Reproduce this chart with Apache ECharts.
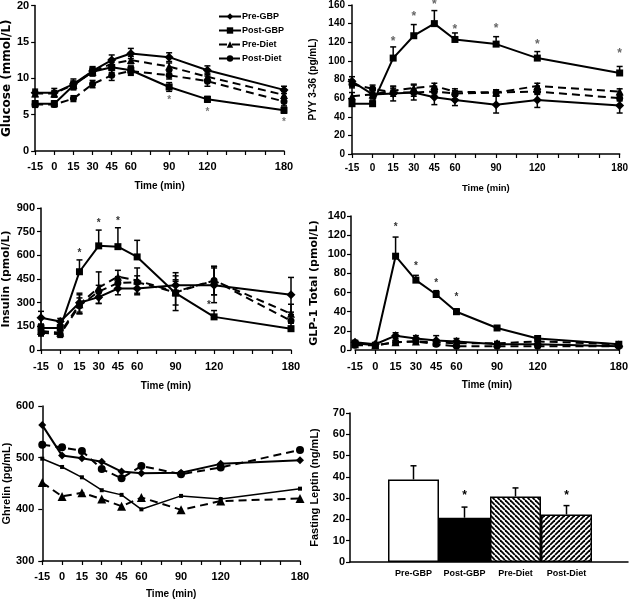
<!DOCTYPE html>
<html><head><meta charset="utf-8">
<script src="https://cdn.jsdelivr.net/npm/echarts@6/dist/echarts.min.js"></script>
<style>html,body{margin:0;padding:0;background:#fff}#c{width:631px;height:600px}</style>
</head><body><div id="c"></div>
<script>
const times = [-15, 0, 15, 30, 45, 60, 90, 120, 180];
const timeLabels = [-15, 0, 15, 30, 45, 60, 90, 120, 180];
const groups = ['Pre-GBP', 'Post-GBP', 'Pre-Diet', 'Post-Diet'];

// Glucose (mmol/L)
const gluPreGBP   = [8.0, 8.0, 9.2, 11.0, 12.5, 13.4, 12.9, 11.1, 8.4];
const gluPostGBP  = [6.5, 6.5, 9.0, 10.9, 11.5, 11.1, 8.8, 7.1, 5.6];
const gluPreDiet  = [7.9, 7.9, 9.1, 10.9, 12.0, 12.5, 11.6, 10.2, 7.7];
const gluPostDiet = [6.4, 6.4, 7.2, 9.2, 10.4, 11.0, 10.4, 9.6, 6.8];
const gluPreGBPErr   = [0.5, 0.6, 0.7, 0.6, 0.7, 0.7, 0.6, 0.6, 0.5];
const gluPostGBPErr  = [0.4, 0.4, 0.6, 0.6, 0.7, 0.6, 0.6, 0.4, 0.4];
const gluPreDietErr  = [0.4, 0.4, 0.5, 0.5, 0.6, 0.5, 0.5, 0.5, 0.5];
const gluPostDietErr = [0.4, 0.3, 0.4, 0.5, 0.7, 0.6, 0.5, 0.7, 0.6];
const gluStars = [[90, 7.0], [120, 5.3], [180, 4.0]];

// PYY 3-36 (pg/mL)
const pyyPreGBP   = [78, 64, 65, 66, 61, 58, 53, 58, 52];
const pyyPostGBP  = [54, 54, 103, 127, 140, 123, 118, 103, 87];
const pyyPreDiet  = [62, 64, 68, 71, 73, 67, 66, 73, 67];
const pyyPostDiet = [75, 70, 66, 66, 67, 65, 66, 67, 60];
const pyyPreGBPErr   = [5, 5, 8, 8, 8, 6, 9, 8, 8];
const pyyPostGBPErr  = [3, 3, 12, 12, 14, 7, 8, 7, 7];
const pyyPreDietErr  = [4, 4, 4, 4, 3, 3, 3, 3, 3];
const pyyPostDietErr = [4, 4, 4, 4, 4, 3, 3, 3, 3];
const pyyStars = [[15, 121], [30, 147], [45, 160], [60, 133], [90, 135], [120, 117], [180, 108]];

// Insulin (pmol/L)
const insPreGBP   = [205, 180, 300, 335, 390, 390, 410, 410, 350];
const insPostGBP  = [140, 140, 496, 660, 655, 590, 360, 210, 135];
const insPreDiet  = [120, 110, 290, 395, 465, 440, 370, 440, 230];
const insPostDiet = [110, 100, 280, 370, 425, 430, 365, 440, 185];
const insPreGBPErr   = [40, 20, 60, 40, 40, 40, 60, 110, 110];
const insPostGBPErr  = [20, 20, 75, 100, 120, 105, 75, 40, 15];
const insPreDietErr  = [30, 20, 60, 100, 40, 80, 120, 90, 60];
const insPostDietErr = [20, 20, 50, 40, 40, 40, 80, 90, 40];
const insStars = [[15, 613], [30, 805], [45, 813], [116, 285]];

// GLP-1 Total (pmol/L)
const glpPreGBP   = [8, 6, 15, 12, 10, 9, 6, 6, 4];
const glpPostGBP  = [7, 5, 98, 73, 58, 40, 23, 12, 6];
const glpPreDiet  = [6, 5, 8, 9, 8, 7, 7, 9, 6];
const glpPostDiet = [5, 5, 8, 9, 6, 4, 4, 4, 4];
const glpPreGBPErr   = [2, 1, 3, 3, 5, 3, 2, 2, 1];
const glpPostGBPErr  = [2, 1, 20, 5, 4, 3, 2, 2, 1];
const glpPreDietErr  = [2, 1, 2, 2, 2, 2, 2, 2, 1];
const glpPostDietErr = [1, 1, 2, 2, 2, 1, 1, 1, 1];
const glpStars = [[15, 128], [30, 88], [45, 70], [60, 55]];

// Ghrelin (pg/mL)
const ghrPreGBP   = [563, 504, 499, 492, 473, 470, 471, 488, 495];
const ghrPostGBP  = [498, 482, 462, 437, 428, 400, 426, 420, 440];
const ghrPreDiet  = [452, 425, 432, 420, 406, 423, 399, 416, 421];
const ghrPostDiet = [525, 520, 513, 478, 460, 484, 468, 481, 515];

// Fasting leptin (ng/mL)
const leptinVals = [38.8, 20.8, 30.8, 22.3];
const leptinErr  = [6.4, 5.0, 4.0, 4.2];
const leptinStars = [[1, 31], [3, 31]];

const SANS = "'Liberation Sans', Arial, sans-serif";
const DEJ = "'DejaVu Sans', sans-serif";

function hatch(dir) {
  const s = 5, c = document.createElement('canvas');
  c.width = s; c.height = s;
  const ctx = c.getContext('2d');
  ctx.fillStyle = '#fff'; ctx.fillRect(0, 0, s, s);
  ctx.strokeStyle = '#000'; ctx.lineWidth = 1.8;
  for (let k = -s; k <= s; k += s) {
    ctx.beginPath();
    if (dir === 'back') { ctx.moveTo(k, 0); ctx.lineTo(k + s, s); }
    else { ctx.moveTo(k, s); ctx.lineTo(k + s, 0); }
    ctx.stroke();
  }
  return { image: c, repeat: 'repeat' };
}

const barStyles = [
  { color: '#fff', borderColor: '#000', borderWidth: 1.5 },
  { color: '#000', borderColor: '#000', borderWidth: 1.5 },
  { color: hatch('back'), borderColor: '#000', borderWidth: 1.5 },
  { color: hatch('fwd'), borderColor: '#000', borderWidth: 1.5 }
];

const symbols = { 'Pre-GBP': ['diamond', 9], 'Post-GBP': ['rect', 7], 'Pre-Diet': ['triangle', 8], 'Post-Diet': ['circle', 7] };
const dashedSet = { 'Pre-GBP': false, 'Post-GBP': false, 'Pre-Diet': true, 'Post-Diet': true };

function lineSeries(gi, name, vals, opt) {
  opt = opt || {};
  const sym = symbols[name];
  return {
    type: 'line', name: name, xAxisIndex: gi, yAxisIndex: gi,
    data: times.map((t, i) => [t, vals[i]]),
    symbol: sym[0], symbolSize: opt.size || sym[1], showSymbol: true,
    itemStyle: { color: '#000' },
    lineStyle: { color: '#000', width: opt.width || 2, type: dashedSet[name] ? [8, 5] : 'solid' },
    z: 3, animation: false
  };
}

function errSeries(gi, xs, vals, errs, upOnly) {
  return {
    type: 'custom', name: 'err', xAxisIndex: gi, yAxisIndex: gi, silent: true, z: 2, animation: false,
    data: xs.map((x, i) => [x, vals[i], errs[i]]),
    renderItem: function (params, api) {
      const x = api.value(0), v = api.value(1), e = api.value(2);
      const top = api.coord([x, v + e]);
      const bot = api.coord([x, upOnly ? v : v - e]);
      const cw = 3;
      const st = { stroke: '#000', lineWidth: 1.5 };
      const ch = [
        { type: 'line', shape: { x1: top[0], y1: top[1], x2: bot[0], y2: bot[1] }, style: st },
        { type: 'line', shape: { x1: top[0] - cw, y1: top[1], x2: top[0] + cw, y2: top[1] }, style: st }
      ];
      if (!upOnly) ch.push({ type: 'line', shape: { x1: bot[0] - cw, y1: bot[1], x2: bot[0] + cw, y2: bot[1] }, style: st });
      return { type: 'group', children: ch };
    }
  };
}

function starSeries(gi, pts, color, size) {
  return {
    type: 'custom', name: 'star', xAxisIndex: gi, yAxisIndex: gi, silent: true, z: 4, animation: false,
    data: pts,
    renderItem: function (params, api) {
      const c = api.coord([api.value(0), api.value(1)]);
      return { type: 'text', x: c[0], y: c[1], style: { text: '*', fill: color, font: 'bold ' + size + 'px ' + SANS, align: 'center', verticalAlign: 'middle' } };
    }
  };
}

const axisLine = { show: true, onZero: false, lineStyle: { color: '#000', width: 1.5 } };
const axisTick = { show: true, length: 4, inside: false, lineStyle: { color: '#000', width: 1.2 } };

function xTime(gi, ls, ns, gap, margin) {
  return {
    gridIndex: gi, type: 'value', min: -15, max: 180, interval: 15,
    axisLine: axisLine, axisTick: axisTick, splitLine: { show: false },
    axisLabel: { color: '#000', fontFamily: SANS, fontSize: ls, fontWeight: 'bold', margin: margin, showMinLabel: true, showMaxLabel: true,
      formatter: v => timeLabels.indexOf(v) >= 0 ? String(v) : '' },
    name: 'Time (min)', nameLocation: 'middle', nameGap: gap,
    nameTextStyle: { color: '#000', fontFamily: SANS, fontSize: ns, fontWeight: 'bold' }
  };
}
function yVal(gi, min, max, interval, name, ls, nf, ns, gap, margin, extra) {
  return Object.assign({
    gridIndex: gi, type: 'value', min: min, max: max, interval: interval,
    axisLine: axisLine, axisTick: axisTick, splitLine: { show: false },
    axisLabel: { color: '#000', fontFamily: SANS, fontSize: ls, fontWeight: 'bold', margin: margin },
    name: name, nameLocation: 'middle', nameGap: gap, nameRotate: 90,
    nameTextStyle: { color: '#000', fontFamily: nf, fontSize: ns, fontWeight: 'bold' }
  }, extra || {});
}

const series = [];
function panel(gi, pre, post, preD, postD, errs, upFlags) {
  const vals = [pre, post, preD, postD];
  groups.forEach((g, k) => series.push(errSeries(gi, times, vals[k], errs[k], upFlags[k])));
  groups.forEach((g, k) => series.push(lineSeries(gi, g, vals[k])));
}
panel(0, gluPreGBP, gluPostGBP, gluPreDiet, gluPostDiet, [gluPreGBPErr, gluPostGBPErr, gluPreDietErr, gluPostDietErr], [false, false, false, false]);
panel(1, pyyPreGBP, pyyPostGBP, pyyPreDiet, pyyPostDiet, [pyyPreGBPErr, pyyPostGBPErr, pyyPreDietErr, pyyPostDietErr], [false, true, false, false]);
panel(2, insPreGBP, insPostGBP, insPreDiet, insPostDiet, [insPreGBPErr, insPostGBPErr, insPreDietErr, insPostDietErr], [false, true, false, false]);
panel(3, glpPreGBP, glpPostGBP, glpPreDiet, glpPostDiet, [glpPreGBPErr, glpPostGBPErr, glpPreDietErr, glpPostDietErr], [false, true, false, false]);
// Ghrelin (no error bars)
series.push(lineSeries(4, 'Pre-GBP', ghrPreGBP, { size: 8 }));
series.push(lineSeries(4, 'Post-GBP', ghrPostGBP, { size: 4, width: 1.5 }));
series.push(lineSeries(4, 'Pre-Diet', ghrPreDiet, { size: 9 }));
series.push(lineSeries(4, 'Post-Diet', ghrPostDiet, { size: 8 }));

series.push(starSeries(0, gluStars, '#777', 10));
series.push(starSeries(1, pyyStars, '#666', 12));
series.push(starSeries(2, insStars, '#333', 10));
series.push(starSeries(3, glpStars, '#333', 10));

// Leptin bars
series.push({
  type: 'bar', name: 'leptin', xAxisIndex: 6, yAxisIndex: 6, barWidth: '100%', barGap: '0%', animation: false,
  data: leptinVals.map((v, i) => ({ value: v, itemStyle: barStyles[i] })), z: 2
});
series.push(Object.assign(errSeries(6, [0, 1, 2, 3], leptinVals, leptinErr, true), { z: 1 }));
series.push(starSeries(6, leptinStars, '#000', 12));

const option = {
  backgroundColor: '#fff',
  animation: false,
  legend: {
    data: groups, orient: 'vertical', left: 213, top: 7,
    itemWidth: 22, itemHeight: 8, itemGap: 5,
    textStyle: { color: '#000', fontFamily: SANS, fontSize: 9, fontWeight: 'bold', padding: [0, 0, 0, -4] },
    selectedMode: false
  },
  grid: [
    { left: 33, top: 5, width: 251, height: 146 },
    { left: 352, top: 3, width: 268, height: 151 },
    { left: 41, top: 208, width: 250, height: 142 },
    { left: 355, top: 216, width: 266, height: 134 },
    { left: 36, top: 406, width: 264, height: 155 },
    { left: 350, top: 413, width: 278, height: 149 },
    { left: 388, top: 413, width: 204, height: 149 }
  ],
  xAxis: [
    xTime(0, 11, 10, 30, 10),
    xTime(1, 10, 9.5, 29, 9),
    xTime(2, 11, 10, 31, 11),
    xTime(3, 11, 10, 30, 11),
    xTime(4, 11, 10, 28, 10),
    { gridIndex: 5, type: 'value', min: 0, max: 1, axisLine: axisLine, axisTick: { show: false }, axisLabel: { show: false }, splitLine: { show: false } },
    { gridIndex: 6, type: 'category', data: groups, axisLine: { show: false }, axisTick: { show: false }, splitLine: { show: false },
      axisLabel: { color: '#000', fontFamily: SANS, fontSize: 9, fontWeight: 'bold', margin: 7, interval: 0 } }
  ],
  yAxis: [
    yVal(0, 0, 20, 5, 'Glucose (mmol/L)', 11, DEJ, 12, 20, 6),
    yVal(1, 0, 160, 20, 'PYY 3-36 (pg/mL)', 10, SANS, 10, 34, 7),
    yVal(2, 0, 900, 150, 'Insulin (pmol/L)', 11, DEJ, 11, 29, 6),
    yVal(3, 0, 140, 20, 'GLP-1 Total (pmol/L)', 11, DEJ, 11, 31, 5, { offset: 4 }),
    yVal(4, 300, 600, 100, 'Ghrelin (pg/mL)', 11, SANS, 11, 28, 8),
    yVal(5, 0, 70, 10, 'Fasting Leptin (ng/mL)', 11, SANS, 11, 30, 5),
    { gridIndex: 6, type: 'value', min: 0, max: 70, show: false }
  ],
  series: series
};

const chart = echarts.init(document.getElementById('c'), null, { renderer: 'canvas' });
chart.setOption(option);
</script>
</body></html>
